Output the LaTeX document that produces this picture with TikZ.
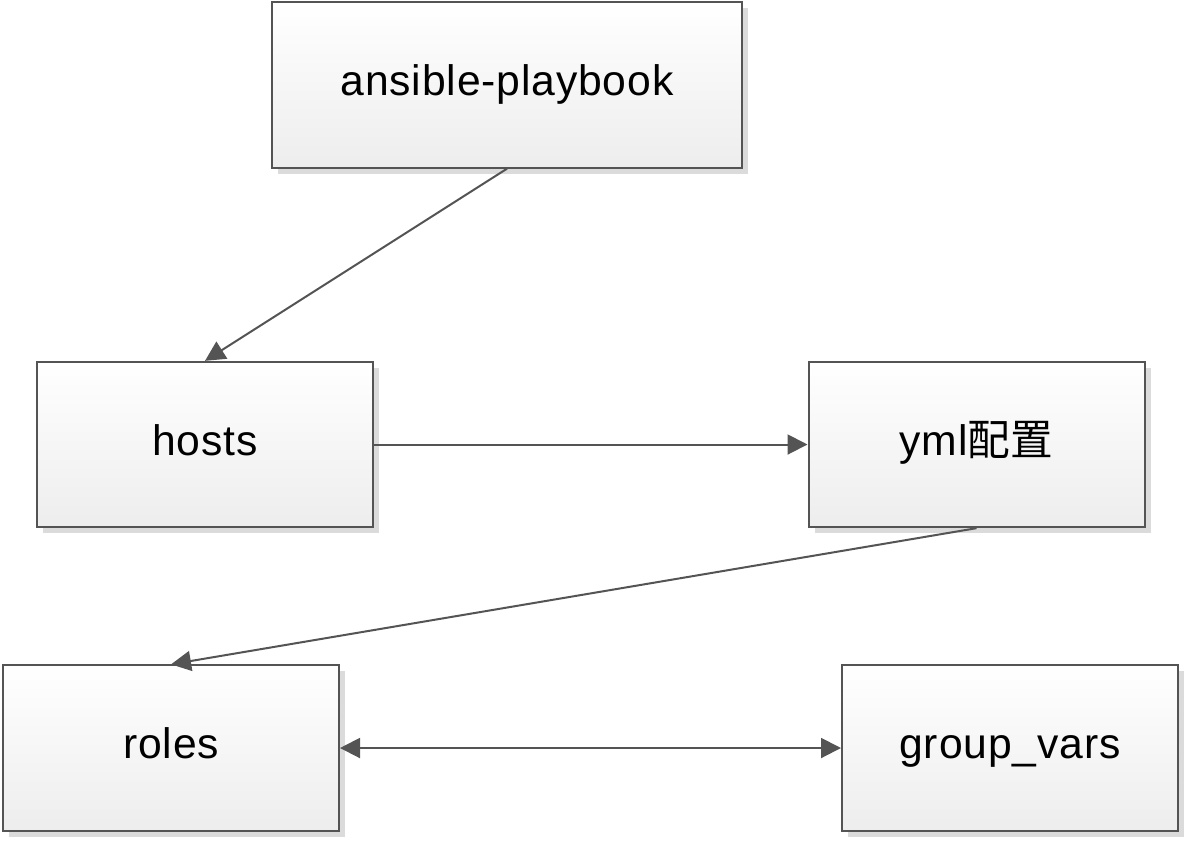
\documentclass[tikz,border=0pt]{standalone}
\usepackage{fontspec}
\setmainfont{Liberation Sans}[LetterSpace=2]
\newfontfamily\cjk{Noto Sans CJK SC}
\usetikzlibrary{arrows.meta,shadows}

\begin{document}
\begin{tikzpicture}[
    x=0.75pt, y=-0.75pt,
    stepbox/.style={draw=black!67, line width=1.5pt, top color=white, bottom color=black!7,
        drop shadow={shadow xshift=4.5pt, shadow yshift=-4.5pt, fill=black!14, opacity=1},
        minimum width=252pt, minimum height=124pt, inner sep=0pt,
        text height=22pt, text depth=6pt,
        font=\fontsize{32}{38}\selectfont},
    flow/.style={draw=black!67, line width=1.5pt, -{Triangle[length=15pt, width=15pt]}},
]
    \useasboundingbox (0,0) rectangle (1188,840);
    \node[stepbox, minimum width=352pt] (play) at (507,85) {ansible-playbook};
    \node[stepbox] (hosts) at (205,444.5) {hosts};
    \node[stepbox] (yml) at (976.5,444.5) {yml{\cjk 配置}};
    \node[stepbox] (roles) at (171,748) {roles};
    \node[stepbox] (vars) at (1010,748) {group\_vars};

    \draw[flow] (play.south) -- (hosts.north);
    \draw[flow] (hosts.east) -- (yml.west);
    \draw[flow] (yml.south) -- (roles.north);
    \draw[flow, {Triangle[length=15pt, width=15pt]}-{Triangle[length=15pt, width=15pt]}] (roles.east) -- (vars.west);
\end{tikzpicture}
\end{document}
